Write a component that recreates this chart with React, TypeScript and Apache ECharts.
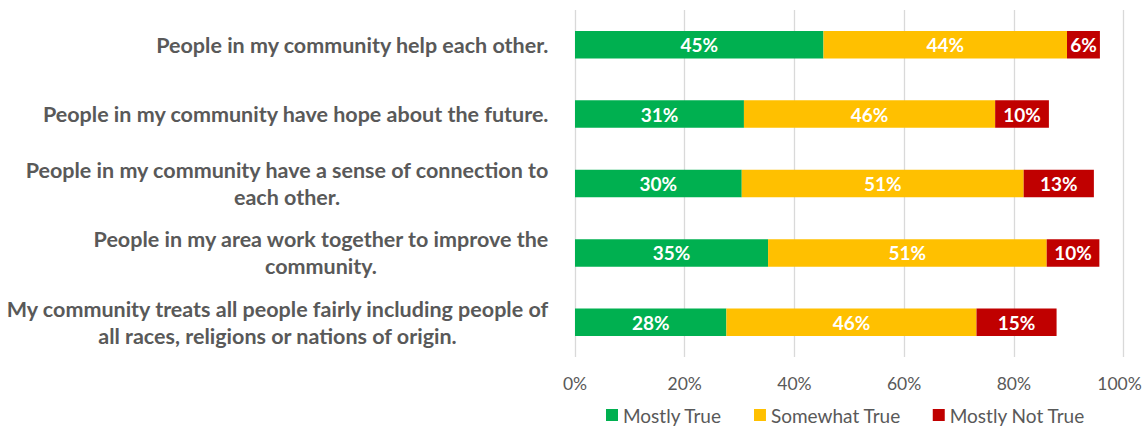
import React, { useEffect, useRef } from 'react';
import * as echarts from 'echarts';

const categories = [
  'People in my community help each other.',
  'People in my community have hope about the future.',
  'People in my community have a sense of connection to\neach other.',
  'People in my area work together to improve the\ncommunity.',
  'My community treats all people fairly including people of\nall races, religions or nations of origin.',
];
const seriesNames = ['Mostly True', 'Somewhat True', 'Mostly Not True'];
const mostlyTrue = [45.3, 30.8, 30.4, 35.2, 27.6];
const somewhatTrue = [44.4, 45.8, 51.4, 50.8, 45.6];
const mostlyNotTrue = [6.0, 9.8, 12.8, 9.6, 14.6];
const seriesColors = ['#00B050', '#FFC000', '#C00000'];
const xMin = 0;
const xMax = 100;
const xStep = 20;

const FONT = 'Lato, "Noto Sans", sans-serif';
const GREY = '#595959';

export default function App() {
  const ref = useRef<HTMLDivElement>(null);
  useEffect(() => {
    document.body.style.margin = '0';
    if (!ref.current) return;
    const chart = echarts.init(ref.current, null, { renderer: 'svg' });
    const values = [mostlyTrue, somewhatTrue, mostlyNotTrue];
    chart.setOption({
      animation: false,
      textStyle: { fontFamily: FONT },
      grid: {
        left: 575,
        right: 19.5,
        top: 10,
        bottom: 70,
        containLabel: false,
        outerBoundsMode: 'none',
      },
      legend: {
        left: 606,
        top: 405.5,
        padding: 0,
        itemWidth: 12,
        itemHeight: 12,
        itemGap: 32,
        icon: 'rect',
        textStyle: {
          color: GREY,
          fontSize: 19,
          lineHeight: 18,
          fontFamily: FONT,
          padding: [0, 0, 0, 0],
        },
        data: seriesNames,
      },
      xAxis: {
        type: 'value',
        min: xMin,
        max: xMax,
        interval: xStep,
        axisLine: { show: false },
        axisTick: { show: false },
        splitLine: { show: true, lineStyle: { color: '#D9D9D9', width: 1.3 } },
        axisLabel: {
          formatter: (v: number) => (v === xMax ? `{last|${v}%}` : `${v}%`),
          color: GREY,
          fontSize: 17.5,
          fontFamily: FONT,
          margin: 17,
          rich: {
            last: {
              color: GREY,
              fontSize: 17.5,
              fontFamily: FONT,
              padding: [0, 8, 0, 0],
            },
          },
        },
      },
      yAxis: {
        type: 'category',
        inverse: true,
        data: categories,
        axisLine: { show: false },
        axisTick: { show: false },
        splitLine: { show: false },
        axisLabel: {
          margin: 26,
          formatter: (v: string) =>
            v
              .split('\n')
              .map((l) => `{c|${l}}`)
              .join('\n'),
          rich: {
            c: {
              align: 'center',
              fontWeight: 'bold',
              fontSize: 21.5,
              lineHeight: 27,
              color: GREY,
              fontFamily: FONT,
            },
          },
        },
      },
      series: seriesNames.map((name, i) => ({
        name,
        type: 'bar',
        stack: 'total',
        barWidth: 27.5,
        data: values[i],
        itemStyle: { color: seriesColors[i] },
        label: {
          show: true,
          position: 'inside',
          color: '#FFFFFF',
          fontWeight: 'bold',
          fontSize: 19,
          fontFamily: FONT,
          formatter: (p: any) => `${Math.round(p.value)}%`,
        },
      })),
    });
    return () => chart.dispose();
  }, []);
  return <div ref={ref} style={{ width: 1143, height: 427 }} />;
}
